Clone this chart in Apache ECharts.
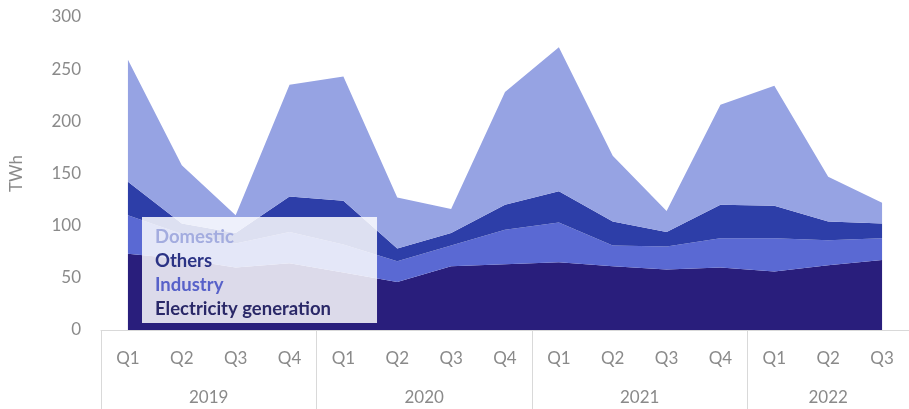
<!DOCTYPE html>
<html>
<head>
<meta charset="utf-8">
<script src="https://cdn.jsdelivr.net/npm/echarts@6/dist/echarts.min.js"></script>
<style>
  html, body { margin: 0; padding: 0; background: #ffffff; }
  #chart { width: 909px; height: 409px; }
</style>
</head>
<body>
<div id="chart"></div>
<script>
// Quarterly consumption by sector, TWh
const quarters = ['Q1', 'Q2', 'Q3', 'Q4', 'Q1', 'Q2', 'Q3', 'Q4', 'Q1', 'Q2', 'Q3', 'Q4', 'Q1', 'Q2', 'Q3'];
const years = ['2019', '2020', '2021', '2022'];
const quartersPerYear = [4, 4, 4, 3];

const electricityGeneration = [73, 68, 60, 64, 55, 46, 61, 63, 65, 61, 58, 60, 56, 62, 67];
const industry = [37, 24, 23, 30, 27, 20, 20, 33, 38, 20, 22, 28, 32, 24, 21];
const others = [32, 10, 10, 34, 42, 12, 12, 24, 30, 23, 14, 32, 31, 18, 14];
const domestic = [117, 56, 17, 107, 119, 49, 23, 108, 138, 63, 20, 96, 115, 43, 20];

const yTicks = [0, 50, 100, 150, 200, 250, 300];

// Year groups: first quarter index of each year and the middle of its span
const yearStarts = [];
const yearMids = [];
let acc = 0;
quartersPerYear.forEach(n => { yearStarts.push(acc); yearMids.push(acc + n / 2); acc += n; });

const FONT = 'Lato';
const GREY = '#8a8a8a';
const LINE = '#d9d9d9';

const colors = {
  'Electricity generation': '#291e7c',
  'Industry': '#5a69d3',
  'Others': '#2d3ea8',
  'Domestic': '#96a3e3'
};

function area(name, data) {
  return {
    name: name,
    type: 'line',
    stack: 'total',
    data: data,
    symbol: 'none',
    lineStyle: { width: 0 },
    areaStyle: { color: colors[name], opacity: 1 },
    itemStyle: { color: colors[name] },
    emphasis: { disabled: true }
  };
}

const chart = echarts.init(document.getElementById('chart'), null, { renderer: 'canvas' });
chart.setOption({
  animation: false,
  textStyle: { fontFamily: FONT },
  grid: { left: 101, right: 0, top: 17, bottom: 79, containLabel: false },
  legend: {
    left: 142,
    top: 217,
    orient: 'vertical',
    selectedMode: false,
    icon: 'none',
    itemWidth: 0,
    itemHeight: 0,
    itemGap: 4,
    padding: [10, 46, 4, 8],
    backgroundColor: 'rgba(255,255,255,0.84)',
    textStyle: { fontFamily: FONT, fontSize: 18.5, fontWeight: 'bold', lineHeight: 20 },
    data: [
      { name: 'Domestic', textStyle: { color: '#a3acdf' } },
      { name: 'Others', textStyle: { color: '#2b3385' } },
      { name: 'Industry', textStyle: { color: '#5761c9' } },
      { name: 'Electricity generation', textStyle: { color: '#2a2868' } }
    ]
  },
  xAxis: [
    {
      type: 'category',
      data: quarters,
      boundaryGap: true,
      axisLine: { lineStyle: { color: LINE, width: 1 } },
      axisTick: {
        show: true,
        length: 80,
        interval: (i) => yearStarts.indexOf(i) >= 0,
        lineStyle: { color: LINE, width: 1 }
      },
      axisLabel: { interval: 0, color: GREY, fontSize: 17, margin: 20, fontFamily: FONT },
      splitLine: { show: false }
    },
    {
      type: 'value',
      min: 0,
      max: quarters.length,
      position: 'bottom',
      axisLine: { show: false },
      axisTick: { show: false },
      splitLine: { show: false },
      axisLabel: {
        customValues: yearMids,
        formatter: (v) => years[yearMids.indexOf(v)],
        color: GREY,
        fontSize: 17,
        margin: 59,
        fontFamily: FONT
      }
    }
  ],
  yAxis: {
    type: 'value',
    min: yTicks[0],
    max: yTicks[yTicks.length - 1],
    interval: yTicks[1] - yTicks[0],
    name: 'TWh',
    nameLocation: 'middle',
    nameGap: 76,
    nameTextStyle: { color: GREY, fontSize: 17, fontFamily: FONT },
    axisLine: { show: false },
    axisTick: { show: false },
    splitLine: { show: false },
    axisLabel: { color: GREY, fontSize: 17, margin: 20, fontFamily: FONT }
  },
  series: [
    area('Electricity generation', electricityGeneration),
    area('Industry', industry),
    area('Others', others),
    area('Domestic', domestic)
  ]
});
</script>
</body>
</html>
